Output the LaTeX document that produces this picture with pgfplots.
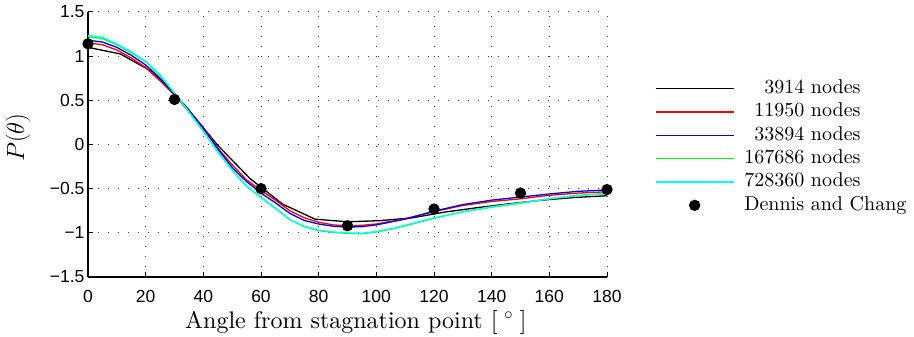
\documentclass[border=0pt]{standalone}
\usepackage{fontspec}
\usepackage{pgfplots}
\pgfplotsset{compat=1.18}
\newfontfamily\ticksans{Liberation Sans}
\newfontfamily\lmten{lmroman10-regular.otf}
\definecolor{mgreen}{rgb}{0,1,0}
\definecolor{mcyan}{rgb}{0,1,1}
\newcommand\rn[1]{\hphantom{728360 nodes}\llap{#1 nodes}}
\begin{document}
\begin{tikzpicture}
\useasboundingbox (-88bp,-60bp) rectangle (826bp,277bp);
\begin{axis}[
  at={(0,0)}, anchor=south west,
  scale only axis, width=519bp, height=265bp,
  xmin=0, xmax=180, ymin=-1.5, ymax=1.5,
  clip=false,
  axis x line*=bottom, axis y line*=left,
  axis line style={line width=1.2bp, -},
  xtick={0,20,40,60,80,100,120,140,160,180},
  xticklabels={0,20,40,60,80,100,120,140,160,180},
  ytick={-1.5,-1,-0.5,0,0.5,1,1.5},
  yticklabels={−1.5,−1,−0.5,0,0.5,1,1.5},
  tick align=inside, major tick length=5bp,
  tick style={line width=1bp, black},
  grid=major,
  grid style={line width=1bp, black!75, dash pattern=on 1bp off 9bp},
  ticklabel style={font=\fontsize{17.5bp}{17.5bp}\ticksans},
  xticklabel style={anchor=base, yshift=-25bp, inner sep=0.5bp},
  xlabel={Angle from stagnation point [\;$^\circ$\;]},
  xlabel style={at={(axis description cs:0.1869,-0.194)}, anchor=base west, inner sep=0pt, font=\fontsize{24bp}{24bp}\lmten},
  ylabel={$P(\theta)$},
  ylabel style={at={(axis description cs:-0.135,0.526)}, anchor=center, font=\fontsize{26bp}{26bp}\selectfont},
  legend cell align=left,
  legend image code/.code={\draw[line width=1.3bp,mark repeat=2,mark phase=2,#1] plot coordinates {(0bp,0bp) (39bp,0bp) (78bp,0bp)};},
  legend style={at={(axis description cs:1.0925,0.745)}, anchor=north west, draw=none, fill=none,
    inner sep=0pt, outer sep=0pt, row sep=4.8bp, column sep=10bp,
    font=\fontsize{20bp}{20bp}\lmten,
    nodes={inner sep=0pt, text height=14bp, text depth=4.5bp}},
  every axis plot/.append style={line width=1.3bp},
]
\addplot[black] coordinates {
(0,1.10) (11.25,1.025) (22.5,0.82) (33.75,0.44) (45,-0.01) (56.25,-0.387)
(67.5,-0.675) (78.75,-0.845) (90,-0.875) (101.25,-0.862) (112.5,-0.83)
(123.75,-0.765) (135,-0.715) (146.25,-0.67) (157.5,-0.63) (168.75,-0.60) (180,-0.58)};
\addlegendentry{\rn{3914}}
\addplot[red] coordinates {
(0,1.15) (5,1.13) (10,1.07) (15,0.98) (20,0.87) (25,0.72) (30,0.56) (35,0.37)
(40,0.19) (45,-0.04) (50,-0.23) (55,-0.40) (60,-0.52) (65,-0.63) (70,-0.75)
(75,-0.83) (80,-0.88) (85,-0.91) (90,-0.92) (95,-0.915) (100,-0.90) (110,-0.84)
(120,-0.76) (130,-0.69) (140,-0.645) (150,-0.615) (160,-0.575) (170,-0.55) (180,-0.535)};
\addlegendentry{\rn{11950}}
\addplot[blue] coordinates {
(0,1.18) (5,1.16) (10,1.10) (15,1.01) (20,0.90) (25,0.75) (30,0.57) (35,0.38)
(40,0.18) (45,-0.05) (50,-0.26) (55,-0.42) (60,-0.55) (65,-0.66) (70,-0.78)
(75,-0.86) (80,-0.90) (85,-0.925) (90,-0.935) (95,-0.93) (100,-0.91) (110,-0.845)
(120,-0.755) (130,-0.68) (140,-0.63) (150,-0.595) (160,-0.56) (170,-0.53) (180,-0.515)};
\addlegendentry{\rn{33894}}
\addplot[mgreen] coordinates {
(0,1.22) (5,1.20) (10,1.13) (15,1.04) (20,0.94) (25,0.78) (30,0.58) (35,0.37)
(40,0.15) (45,-0.08) (50,-0.29) (55,-0.47) (60,-0.60) (65,-0.72) (70,-0.85)
(75,-0.93) (80,-0.975) (85,-0.995) (90,-1.005) (95,-1.01) (100,-0.99) (105,-0.96)
(110,-0.92) (120,-0.835) (130,-0.76) (140,-0.71) (150,-0.665) (160,-0.615) (170,-0.575) (180,-0.555)};
\addlegendentry{\rn{167686}}
\addplot[mcyan] coordinates {
(0,1.235) (5,1.215) (10,1.14) (15,1.05) (20,0.945) (25,0.79) (30,0.585) (35,0.37)
(40,0.15) (45,-0.08) (50,-0.29) (55,-0.475) (60,-0.60) (65,-0.725) (70,-0.85)
(75,-0.925) (80,-0.97) (85,-0.99) (90,-1.0) (95,-1.005) (100,-0.985) (105,-0.955)
(110,-0.915) (120,-0.83) (130,-0.765) (140,-0.705) (150,-0.66) (160,-0.615) (170,-0.58) (180,-0.555)};
\addlegendentry{\rn{728360}}
\addplot[only marks, mark=*, mark size=5bp, black, fill=black] coordinates {
(0,1.14) (30,0.51) (60,-0.50) (90,-0.92) (120,-0.73) (150,-0.55) (180,-0.51)};
\addlegendentry{Dennis and Chang}
\end{axis}
\end{tikzpicture}
\end{document}
